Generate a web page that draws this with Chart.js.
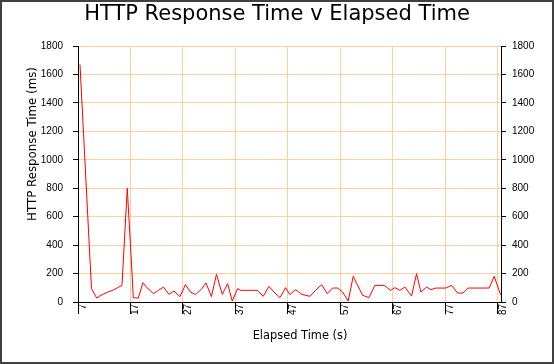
<!DOCTYPE html>
<html>
<head>
<meta charset="utf-8">
<script src="https://cdn.jsdelivr.net/npm/chart.js@4/dist/chart.umd.min.js"></script>
<style>
  html, body { margin: 0; padding: 0; background: #fff; }
  #wrap { width: 554px; height: 364px; }
</style>
</head>
<body>
<div id="wrap"><canvas id="c" width="554" height="364"></canvas></div>
<script>
const chartTitle = "HTTP Response Time v Elapsed Time";
const xAxisTitle = "Elapsed Time (s)";
const yAxisTitle = "HTTP Response Time (ms)";

const elapsedSeconds = [7.38, 9.57, 10.56, 11.38, 12.66, 13.61, 14.56, 15.38, 16.39, 17.40, 17.53, 18.49,
  19.38, 20.14, 20.71, 21.38, 22.33, 23.29, 24.33, 25.29, 26.43, 27.48, 28.43, 29.38, 30.52, 31.38,
  32.43, 33.38, 34.49, 35.51, 36.39, 37.42, 37.99, 41.15, 42.30, 43.38, 44.33, 45.48, 46.56, 47.38,
  48.47, 49.61, 51.19, 52.28, 53.42, 54.49, 55.51, 56.47, 57.42, 58.49, 59.44, 61.23, 62.43, 63.57,
  65.34, 66.56, 67.38, 68.33, 69.29, 70.56, 71.51, 72.33, 73.42, 74.24, 75.19, 77.04, 78.18, 79.32,
  80.39, 81.34, 85.34, 86.30, 87.57];
const responseMs = [1670, 94, 28, 47, 70, 82, 101, 117, 800, 129, 30, 28,
  136, 100, 82, 59, 82, 105, 54, 77, 38, 122, 70, 52, 90, 134,
  38, 195, 54, 129, 7, 94, 82, 82, 40, 110, 70, 31, 101, 52,
  87, 54, 40, 82, 122, 59, 98, 98, 70, 7, 181, 47, 31, 117,
  117, 82, 101, 82, 105, 42, 199, 70, 105, 87, 98, 98, 117, 63,
  63, 98, 98, 181, 47];
const xTickValues = [7, 17, 27, 37, 47, 57, 67, 77, 87];
const xMin = 7, xMax = 87.6;
const yMin = 0, yMax = 1800, yStep = 200;

const gridColor = 'rgb(255,206,160)';
const tickFont = { family: 'Liberation Sans', size: 10 };

const framePlugin = {
  id: 'frame',
  beforeDraw(chart) {
    const ctx = chart.ctx;
    ctx.save();
    ctx.fillStyle = '#ffffff';
    ctx.fillRect(0, 0, chart.width, chart.height);
    ctx.restore();
  },
  afterDraw(chart) {
    const ctx = chart.ctx;
    ctx.save();
    ctx.strokeStyle = '#404040';
    ctx.lineWidth = 2;
    ctx.strokeRect(1, 1, chart.width - 2, chart.height - 2);
    ctx.fillStyle = '#000';
    ctx.textAlign = 'center';
    ctx.textBaseline = 'alphabetic';
    ctx.font = '21px "DejaVu Sans"';
    ctx.fillText(chartTitle, 277, 20);
    ctx.font = '11.4px "DejaVu Sans"';
    ctx.fillText(xAxisTitle, 300, 338.5);
    ctx.translate(36, 144);
    ctx.rotate(-Math.PI / 2);
    ctx.font = '11.8px "DejaVu Sans"';
    ctx.fillText(yAxisTitle, 0, 0);
    ctx.restore();
  }
};

const points = elapsedSeconds.map((t, i) => ({ x: t, y: responseMs[i] }));

new Chart(document.getElementById('c'), {
  type: 'line',
  data: {
    datasets: [{
      data: points,
      borderColor: '#ff0000',
      borderWidth: 1,
      pointRadius: 0,
      tension: 0,
      fill: false
    }]
  },
  options: {
    responsive: false,
    devicePixelRatio: 1,
    animation: false,
    layout: { padding: { top: 46, left: 0, right: 0, bottom: 0 } },
    plugins: { legend: { display: false }, tooltip: { enabled: false }, title: { display: false } },
    scales: {
      x: {
        type: 'linear',
        position: 'bottom',
        min: xMin,
        max: xMax,
        afterBuildTicks(scale) { scale.ticks = xTickValues.map(v => ({ value: v })); },
        afterFit(scale) { scale.height = 62; },
        ticks: {
          autoSkip: false,
          minRotation: 90,
          maxRotation: 90,
          padding: -10,
          labelOffset: 5,
          color: '#000',
          font: tickFont,
          callback: (v) => String(v)
        },
        grid: {
          color: (c) => (c.index === 0 ? 'rgba(0,0,0,0)' : gridColor),
          tickColor: '#000',
          tickLength: 12,
          lineWidth: 1
        },
        border: { color: '#000', width: 1 }
      },
      y: {
        type: 'linear',
        position: 'left',
        min: yMin,
        max: yMax,
        afterFit(scale) { scale.width = 78; },
        ticks: { stepSize: yStep, padding: 10, color: '#000', font: tickFont, callback: (v) => String(v) },
        grid: {
          color: (c) => (c.tick && c.tick.value === 0 ? 'rgba(0,0,0,0)' : gridColor),
          tickColor: '#000',
          tickLength: 5
        },
        border: { color: '#000', width: 1 }
      },
      y2: {
        type: 'linear',
        position: 'right',
        min: yMin,
        max: yMax,
        afterFit(scale) { scale.width = 53; },
        ticks: { stepSize: yStep, padding: 6, color: '#000', font: tickFont, callback: (v) => String(v) },
        grid: { drawOnChartArea: false, tickColor: '#000', tickLength: 5 },
        border: { color: '#000', width: 1 }
      }
    }
  },
  plugins: [framePlugin]
});
</script>
</body>
</html>
